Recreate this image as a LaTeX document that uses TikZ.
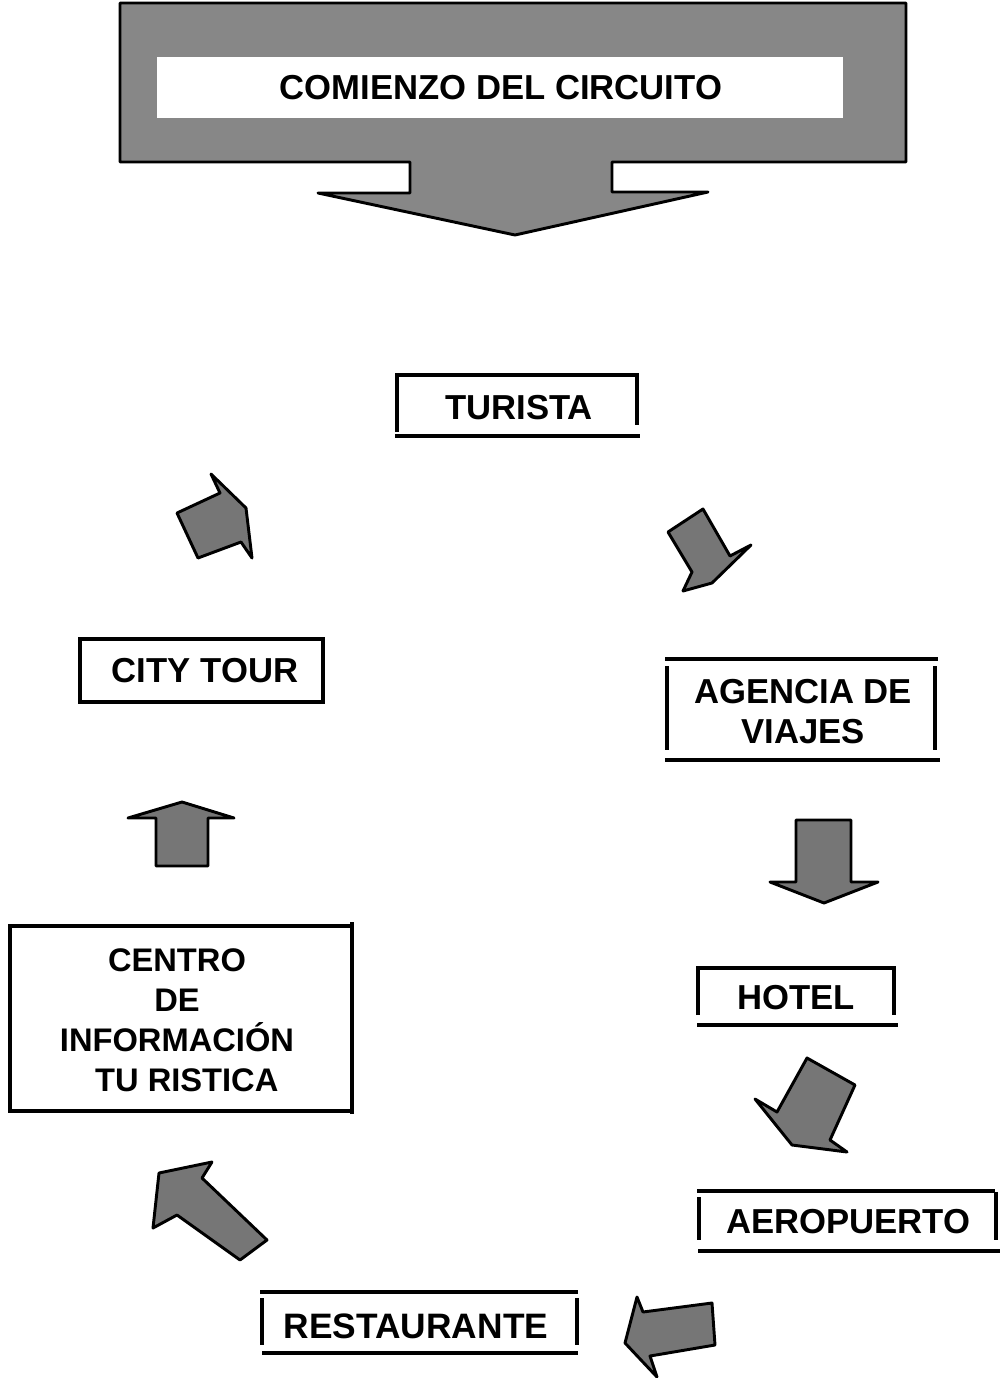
\documentclass[tikz,border=0pt]{standalone}
\usepackage{fontspec}
\setmainfont{Liberation Sans}

\tikzset{every picture/.style={line width=0.75pt}}
\tikzset{
  boxtext/.style={font=\fontsize{26}{30}\selectfont\bfseries, align=center, inner sep=0pt},
  frameline/.style={line width=2.4pt},
  floorline/.style={line width=3.4pt},
  blockarrow/.style={draw, line width=2.2pt, line join=round, fill={rgb, 255:red, 118; green, 118; blue, 118}, fill opacity=1},
}

\begin{document}
\begin{tikzpicture}[x=0.75pt,y=0.75pt,yscale=-1,xscale=1]
\useasboundingbox (0,0) rectangle (1006,1378);

%Banner Arrow [id:banner]
\draw  [blockarrow, fill={rgb, 255:red, 135; green, 135; blue, 135}] (120,3) -- (906,3) -- (906,162) -- (612,162) -- (612,192) -- (708,192) -- (515,235) -- (318,193) -- (410,193) -- (410,162) -- (120,162) -- cycle ;
%Banner Window
\draw  [draw=none, fill=white] (157,57) -- (843,57) -- (843,118) -- (157,118) -- cycle ;

%Frame TURISTA
\draw  [frameline] (397,432) -- (397,375) -- (637,375) -- (637,425) ;
\draw  [floorline] (395,436) -- (640,436) ;
%Frame AGENCIA
\draw  [floorline] (665,659) -- (938,659) ;
\draw  [frameline] (667,666) -- (667,750) ;
\draw  [frameline] (935,666) -- (935,750) ;
\draw  [floorline] (665,760) -- (940,760) ;
%Frame HOTEL
\draw  [frameline] (698,1015) -- (698,968) -- (894,968) -- (894,1015) ;
\draw  [floorline] (697,1025) -- (898,1025) ;
%Frame AEROPUERTO
\draw  [floorline] (697,1191) -- (995,1191) ;
\draw  [frameline] (699,1197) -- (699,1240) ;
\draw  [frameline] (996,1192) -- (996,1240) ;
\draw  [floorline] (698,1251) -- (1000,1251) ;
%Frame RESTAURANTE
\draw  [floorline] (260,1292) -- (578,1292) ;
\draw  [frameline] (262,1298) -- (262,1345) ;
\draw  [frameline] (577,1298) -- (577,1345) ;
\draw  [floorline] (262,1353) -- (578,1353) ;
%Frame CITY TOUR
\draw  [frameline] (80,639) -- (323,639) -- (323,702) -- (80,702) -- cycle ;
%Frame CENTRO
\draw  [frameline] (10,926) -- (352,926) -- (352,1111) -- (10,1111) -- cycle ;
\draw  [frameline] (352,922) -- (352,1114) ;

%Arrow [id:turista-agencia]
\draw  [blockarrow] (668,532) -- (703,509) -- (730,556) -- (751,545) -- (712,583) -- (683,591) -- (692,572) -- cycle ;
%Arrow [id:agencia-hotel]
\draw  [blockarrow] (796,820) -- (851,820) -- (851,882) -- (878,882) -- (824,903) -- (770,882) -- (796,882) -- cycle ;
%Arrow [id:hotel-aeropuerto]
\draw  [blockarrow] (807,1058) -- (855,1085) -- (830,1140) -- (847,1152) -- (792,1145) -- (755,1099) -- (777,1112) -- cycle ;
%Arrow [id:aeropuerto-restaurante]
\draw  [blockarrow] (712,1303) -- (715,1345) -- (650,1356) -- (657,1377) -- (625,1343) -- (637,1297) -- (643,1312) -- cycle ;
%Arrow [id:restaurante-centro]
\draw  [blockarrow] (267,1240) -- (240,1260) -- (177,1215) -- (153,1228) -- (159,1173) -- (212,1162) -- (202,1178) -- cycle ;
%Arrow [id:centro-city]
\draw  [blockarrow] (156,866) -- (156,818) -- (128,818) -- (182,802) -- (234,818) -- (208,818) -- (208,866) -- cycle ;
%Arrow [id:city-turista]
\draw  [blockarrow] (198,558) -- (177,513) -- (220,493) -- (211,474) -- (246,508) -- (252,558) -- (241,542) -- cycle ;

% Text Node
\draw (501,88) node (comienzo) [boxtext] {COMIENZO DEL CIRCUITO};
% Text Node
\draw (519,408) node (turista) [boxtext] {TURISTA};
% Text Node
\draw (803,712) node (agencia) [boxtext] {AGENCIA DE\\VIAJES};
% Text Node
\draw (796,998) node (hotel) [boxtext] {HOTEL};
% Text Node
\draw (848,1222) node (aeropuerto) [boxtext] {AEROPUERTO};
% Text Node
\draw (416,1326) node (restaurante) [boxtext, font=\fontsize{26.5}{30}\selectfont\bfseries] {RESTAURANTE};
% Text Node
\draw (205,671) node (citytour) [boxtext] {CITY TOUR};
% Text Node
\draw (177,1020) node (centro) [boxtext, font=\fontsize{24.5}{30}\selectfont\bfseries] {CENTRO\\DE\\INFORMACIÓN\\\hspace{0.6em}TU RISTICA};

\end{tikzpicture}
\end{document}
